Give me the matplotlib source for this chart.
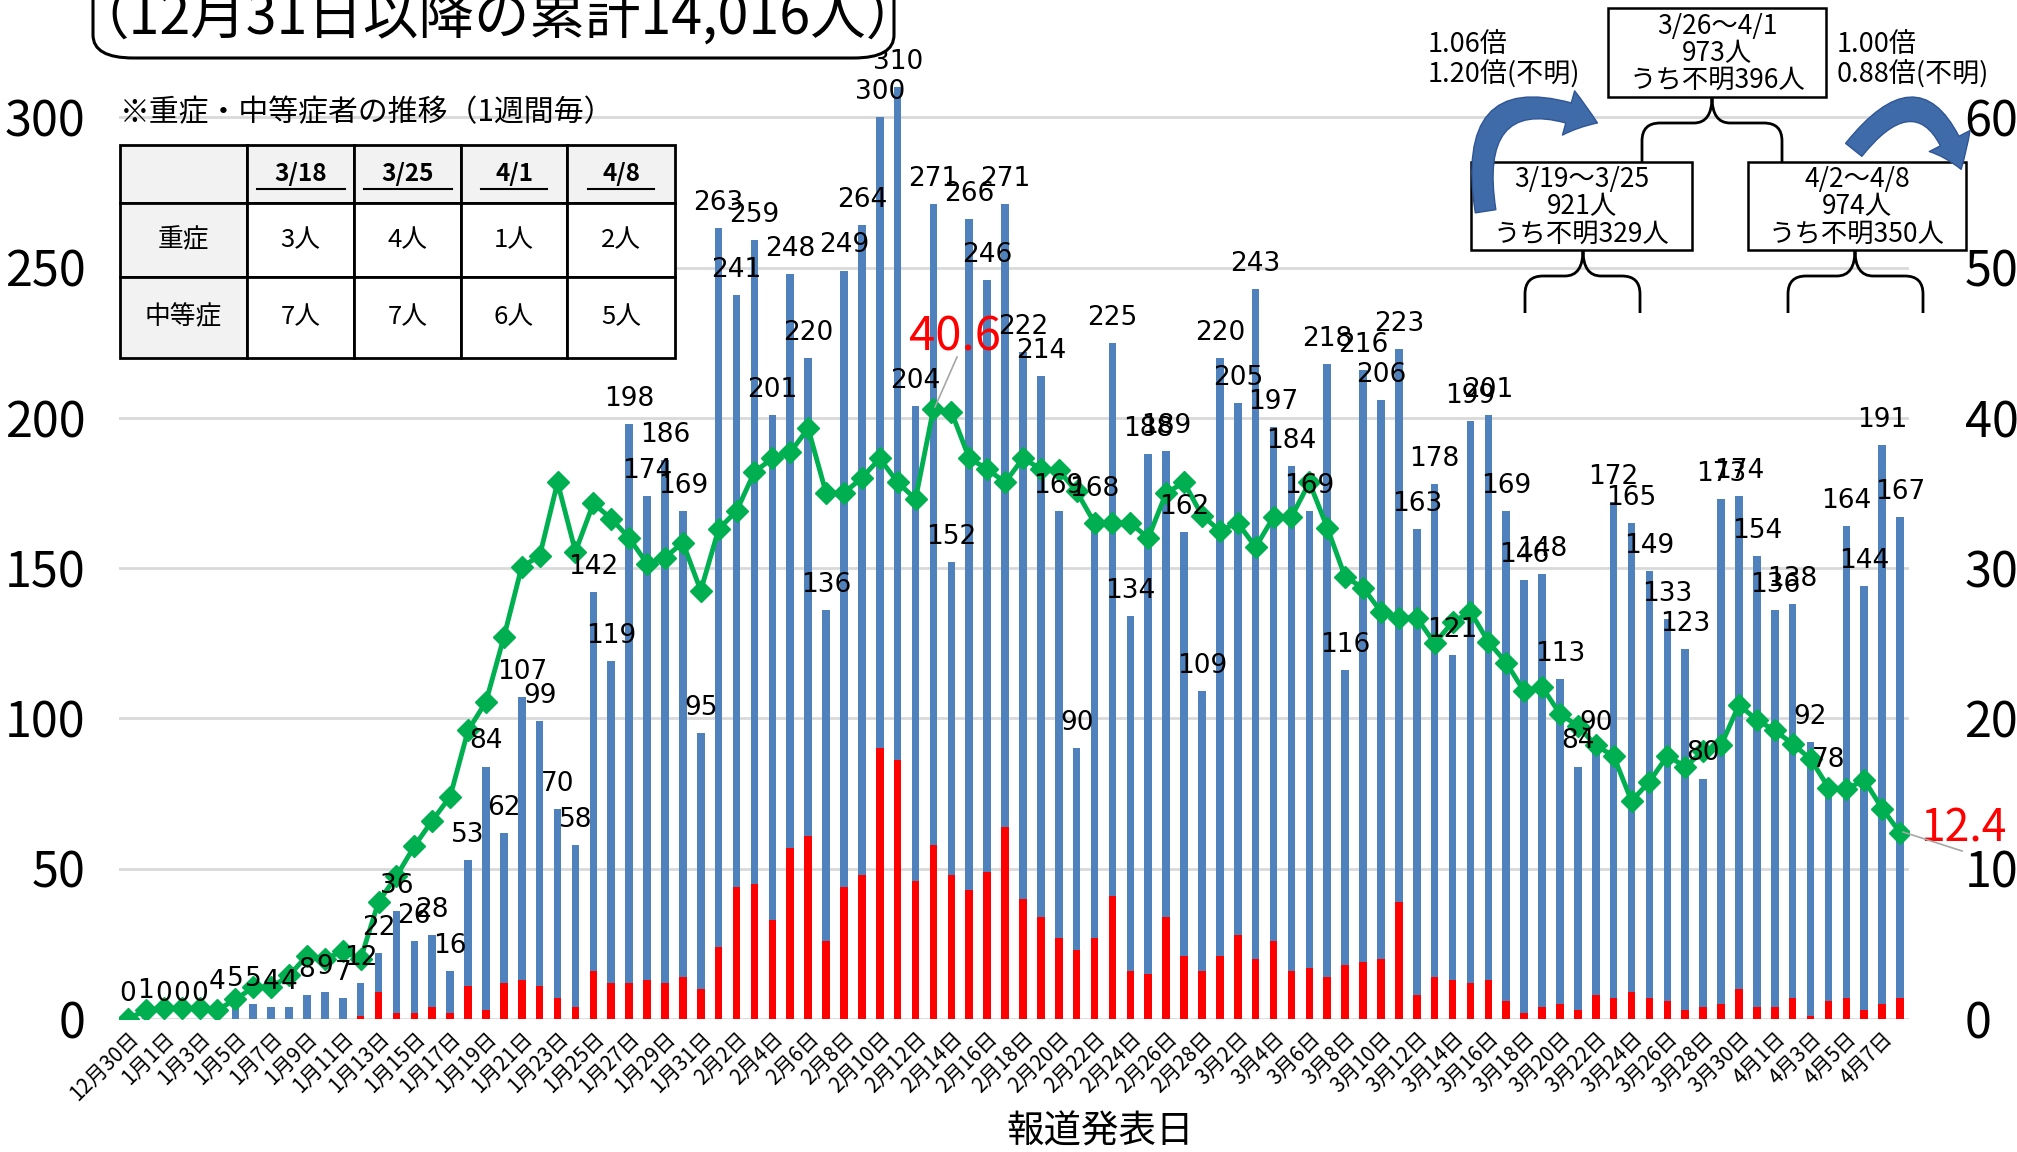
import numpy as np
import pandas as pd
import matplotlib
matplotlib.use("Agg")
import matplotlib.pyplot as plt
from matplotlib.patches import FancyBboxPatch, Rectangle, FancyArrowPatch, PathPatch
from matplotlib.path import Path

plt.rcParams['font.family'] = ['Noto Sans CJK JP', 'DejaVu Sans']

# daily reported cases, 12/30 .. 4/8
dates = pd.date_range('2020-12-30', periods=100)
total = [0, 1, 0, 0, 0, 4, 5, 5, 4, 4,
         8, 9, 7, 12, 22, 36, 26, 28, 16, 53,
         84, 62, 107, 99, 70, 58, 142, 119, 198, 174,
         186, 169, 95, 263, 241, 259, 201, 248, 220, 136,
         249, 264, 300, 310, 204, 271, 152, 266, 246, 271,
         222, 214, 169, 90, 168, 225, 134, 188, 189, 162,
         109, 220, 205, 243, 197, 184, 169, 218, 116, 216,
         206, 223, 163, 178, 121, 199, 201, 169, 146, 148,
         113, 84, 90, 172, 165, 149, 133, 123, 80, 173,
         174, 154, 136, 138, 92, 78, 164, 144, 191, 167]
# red part of each bar
red = [0, 0, 0, 0, 0, 0, 0, 0, 0, 0,
       0, 0, 0, 1, 9, 2, 2, 4, 2, 11,
       3, 12, 13, 11, 7, 4, 16, 12, 12, 13,
       12, 14, 10, 24, 44, 45, 33, 57, 61, 26,
       44, 48, 90, 86, 46, 58, 48, 43, 49, 64,
       40, 34, 27, 23, 27, 41, 16, 15, 34, 21,
       16, 21, 28, 20, 26, 16, 17, 14, 18, 19,
       20, 39, 8, 14, 13, 12, 13, 6, 2, 4,
       5, 3, 8, 7, 9, 7, 6, 3, 4, 5,
       10, 4, 4, 7, 1, 6, 7, 3, 5, 7]
# green line (right axis)
line = [0.0, 0.6, 0.7, 0.7, 0.7, 0.6, 1.3, 2.1, 2.1, 2.9,
        4.2, 4.0, 4.5, 4.0, 7.8, 9.5, 11.5, 13.2, 14.8, 19.2,
        21.1, 25.4, 30.1, 30.8, 35.7, 31.1, 34.3, 33.3, 32.0, 30.3,
        30.7, 31.7, 28.5, 32.6, 33.8, 36.4, 37.3, 37.7, 39.3, 35.0,
        35.0, 36.0, 37.3, 35.7, 34.6, 40.6, 40.4, 37.3, 36.6, 35.7,
        37.3, 36.6, 36.5, 35.1, 33.0, 33.0, 33.0, 32.0, 35.0, 35.7,
        33.5, 32.5, 33.0, 31.4, 33.4, 33.4, 35.7, 32.7, 29.4, 28.7,
        27.1, 26.7, 26.7, 25.0, 26.4, 27.1, 25.1, 23.7, 21.8, 22.1,
        20.3, 19.5, 18.2, 17.5, 14.5, 15.8, 17.5, 16.8, 17.8, 18.2,
        20.9, 19.9, 19.2, 18.3, 17.3, 15.4, 15.3, 15.9, 14.0, 12.4]

tbl_cols = ['3/18', '3/25', '4/1', '4/8']
tbl_rows = ['重症', '中等症']
tbl_vals = [['3人', '4人', '1人', '2人'], ['7人', '7人', '6人', '5人']]

week_boxes = [('3/26～4/1', '973人', 'うち不明396人'),
              ('3/19～3/25', '921人', 'うち不明329人'),
              ('4/2～4/8', '974人', 'うち不明350人')]
ratio_left = '1.06倍\n1.20倍(不明)'
ratio_right = '1.00倍\n0.88倍(不明)'

BLUE = '#4F81BD'
RED = '#FF0000'
GREEN = '#00B050'
GRID = '#D9D9D9'

W, H = 2017, 1152
fig = plt.figure(figsize=(W / 100, H / 100), dpi=100)


def fx(x):
    return x / W


def fy(y):
    return 1 - y / H


ax = fig.add_axes([fx(119), fy(1019), 1790 / W, 1019 / H])
x = np.arange(len(total))
ax.bar(x, total, width=0.42, color=BLUE, zorder=2)
ax.bar(x, red, width=0.42, color=RED, zorder=3)
ax.set_xlim(-0.5, len(total) - 0.5)
ax.set_ylim(0, 339)
ax.set_yticks(np.arange(0, 301, 50))
ax.grid(axis='y', color=GRID, lw=2, zorder=0)
ax.set_axisbelow(True)
for s in ax.spines.values():
    s.set_visible(False)
ax.tick_params(axis='y', length=0, labelsize=35, pad=24)
ax.tick_params(axis='x', length=0, labelsize=15, pad=6)
ticks = x[::2]
ax.set_xticks(ticks)
ax.set_xticklabels([f'{d.month}月{d.day}日' for d in dates[::2]],
                   rotation=45, ha='right', rotation_mode='anchor')

ax2 = ax.twinx()
ax2.set_ylim(0, 339 / 5)
ax2.set_yticks(np.arange(0, 61, 10))
ax2.tick_params(axis='y', length=0, labelsize=35, pad=40)
for s in ax2.spines.values():
    s.set_visible(False)
ax2.plot(x, line, color=GREEN, lw=3.5, marker='D', markersize=11.5, zorder=3)

for i, v in enumerate(total):
    ax2.text(i, v + 6, str(v), transform=ax.transData, ha='center',
             va='baseline', fontsize=19, family='DejaVu Sans', zorder=5)

# highlighted line values
ax2.text(fx(955), fy(337), '40.6', transform=fig.transFigure, color=RED,
         fontsize=34, ha='center', va='center')
fig.add_artist(plt.Line2D([fx(957), fx(935)], [fy(357), fy(407)],
                          color='#A6A6A6', lw=1.2))
ax2.text(fx(1963), fy(828), '12.4', transform=fig.transFigure, color=RED,
         fontsize=32, ha='center', va='center')
fig.add_artist(plt.Line2D([fx(1903), fx(1962)], [fy(832), fy(851)],
                          color='#A6A6A6', lw=1.2))

fig.text(fx(1100), fy(1132), '報道発表日', fontsize=27, ha='center', va='center')

# title box
fig.add_artist(FancyBboxPatch((fx(93), fy(58)), (894 - 93) / W, 110 / H,
                              boxstyle='round,pad=0,rounding_size=0.02',
                              transform=fig.transFigure, fc='white',
                              ec='black', lw=2.2))
fig.text(fx(497), fy(19), '（12月31日以降の累計14,016人）', fontsize=40,
         ha='center', va='center')

# severity table
fig.text(fx(120), fy(113), '※重症・中等症者の推移（1週間毎）', fontsize=21.5,
         ha='left', va='center')
cx = [120, 247, 354, 461, 567, 675]
ry = [145, 203, 277, 358]
for r in range(3):
    for c in range(5):
        fc = '#F2F2F2' if (r == 0 or c == 0) else 'white'
        fig.add_artist(Rectangle((fx(cx[c]), fy(ry[r + 1])),
                                 (cx[c + 1] - cx[c]) / W,
                                 (ry[r + 1] - ry[r]) / H,
                                 transform=fig.transFigure, fc=fc,
                                 ec='black', lw=2))
for c, lab in enumerate(tbl_cols):
    xm = (cx[c + 1] + cx[c + 2]) / 2
    ym = (ry[0] + ry[1]) / 2
    fig.text(fx(xm), fy(ym), lab, fontsize=17.5, fontweight='bold',
             ha='center', va='center')
    hw = 11 * len(lab)
    fig.add_artist(plt.Line2D([fx(xm - hw), fx(xm + hw)],
                              [fy(ym + 15), fy(ym + 15)], color='black', lw=1.5))
for r, lab in enumerate(tbl_rows):
    ym = (ry[r + 1] + ry[r + 2]) / 2
    fig.text(fx((cx[0] + cx[1]) / 2), fy(ym), lab, fontsize=18.5,
             ha='center', va='center')
    for c, v in enumerate(tbl_vals[r]):
        fig.text(fx((cx[c + 1] + cx[c + 2]) / 2), fy(ym), v, fontsize=18.5,
                 ha='center', va='center')

# weekly comparison boxes
box_pos = [(1608, 8, 1826, 97), (1471, 162, 1692, 250), (1748, 162, 1966, 250)]
for (x0, y0, x1, y1), lines in zip(box_pos, week_boxes):
    fig.add_artist(Rectangle((fx(x0), fy(y1)), (x1 - x0) / W, (y1 - y0) / H,
                             transform=fig.transFigure, fc='white',
                             ec='black', lw=1.8))
    fig.text(fx((x0 + x1) / 2), fy((y0 + y1) / 2 + 1), '\n'.join(lines),
             fontsize=19, ha='center', va='center', linespacing=1.0)


def brace(cxp, top, h, xl, xr, bottom, r=18):
    verts = [(xl, bottom), (xl, h + r), (xl, h), (xl + r, h), (cxp - r, h),
             (cxp, h), (cxp, top), (cxp, h), (cxp + r, h), (xr - r, h),
             (xr, h), (xr, h + r), (xr, bottom)]
    codes = [Path.MOVETO, Path.LINETO, Path.CURVE3, Path.CURVE3, Path.LINETO,
             Path.CURVE3, Path.CURVE3, Path.CURVE3, Path.CURVE3, Path.LINETO,
             Path.CURVE3, Path.CURVE3, Path.LINETO]
    verts = [(fx(a), fy(b)) for a, b in verts]
    fig.add_artist(PathPatch(Path(verts, codes), fc='none', ec='black', lw=2,
                             transform=fig.transFigure))


brace(1712, 97, 123, 1642, 1782, 162)
brace(1583, 250, 276, 1525, 1640, 313)
brace(1855, 250, 276, 1788, 1923, 313)

fig.text(fx(1428), fy(60), ratio_left, fontsize=19.5, ha='left', va='center',
         linespacing=1.1)
fig.text(fx(1837), fy(60), ratio_right, fontsize=19.5, ha='left', va='center',
         linespacing=1.1)

arrow_style = 'simple,head_length=0.5,head_width=0.75,tail_width=0.34'
fig.add_artist(FancyArrowPatch((fx(1486), fy(214)), (fx(1600), fy(124)),
                               connectionstyle='arc3,rad=-0.9',
                               arrowstyle=arrow_style, mutation_scale=44,
                               transform=fig.transFigure,
                               fc='#3F6CA8', ec='#2F5597', lw=1))
fig.add_artist(FancyArrowPatch((fx(1852), fy(152)), (fx(1962), fy(172)),
                               connectionstyle='arc3,rad=-0.95',
                               arrowstyle=arrow_style, mutation_scale=44,
                               transform=fig.transFigure,
                               fc='#3F6CA8', ec='#2F5597', lw=1))

fig.savefig('out.png', dpi=100)
